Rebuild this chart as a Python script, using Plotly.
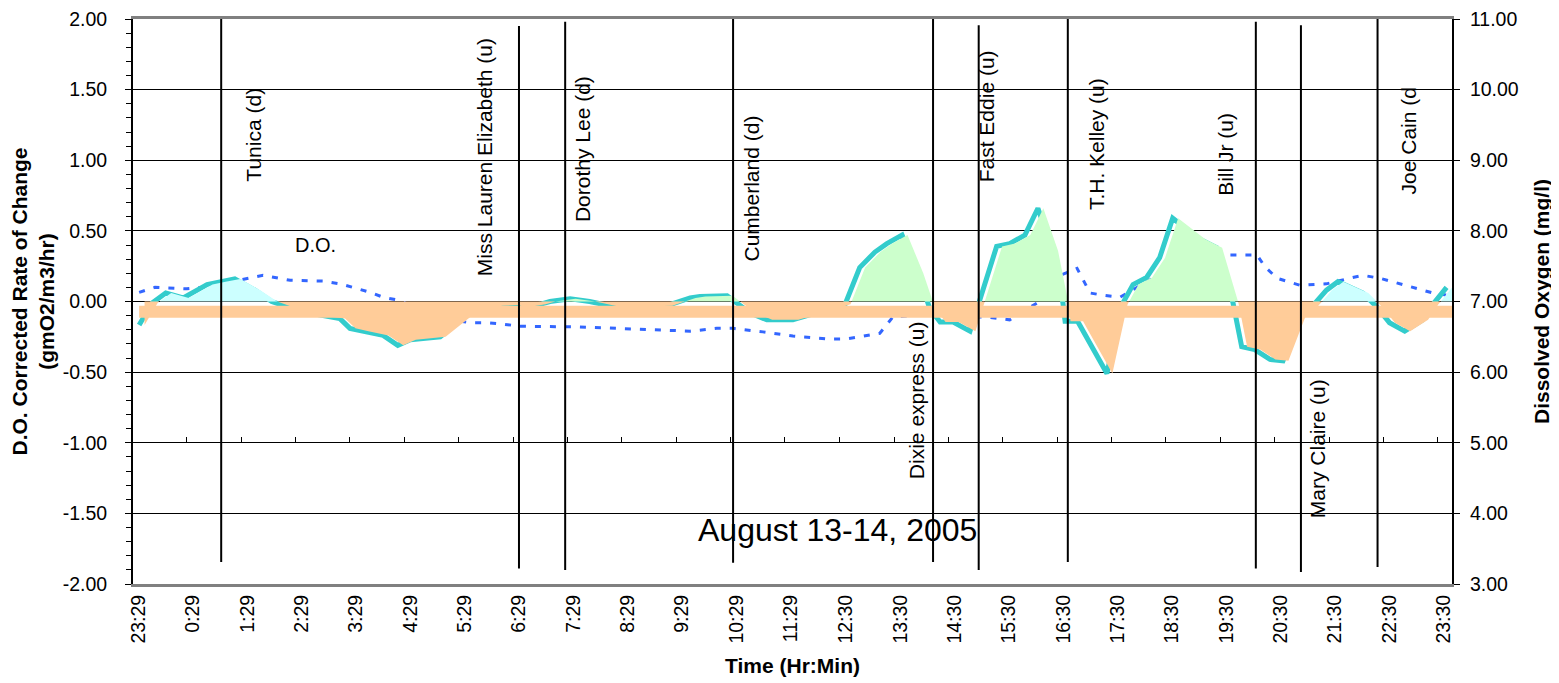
import plotly.graph_objects as go

# ---------------- data ----------------
TICK_LABELS = ["23:29", "0:29", "1:29", "2:29", "3:29", "4:29", "5:29", "6:29", "7:29",
               "8:29", "9:29", "10:29", "11:29", "12:30", "13:30", "14:30", "15:30",
               "16:30", "17:30", "18:30", "19:30", "20:30", "21:30", "22:30", "23:30"]

# hours elapsed since 23:29
RATE_TIME_H = [0.01, 0.25, 0.50, 0.82, 1.26, 1.50, 1.77, 2.14, 2.45, 2.97, 3.47, 3.70, 3.89,
               4.13, 4.50, 4.77, 5.00, 5.55, 5.97, 6.19, 6.60, 6.87, 7.05, 7.39, 7.57, 7.94,
               8.30, 8.80, 9.72, 10.15, 10.33, 10.83, 11.25, 11.56, 12.04, 12.67, 13.00,
               13.27, 13.55, 13.77, 14.05, 14.34, 14.56, 14.75, 14.99, 15.30, 15.79, 16.03,
               16.31, 16.55, 16.82, 17.01, 17.05, 17.28, 17.82, 18.10, 18.30, 18.55, 18.79,
               19.03, 19.53, 19.84, 20.14, 20.30, 20.54, 20.82, 21.06, 21.37, 21.61, 21.86,
               22.07, 22.53, 22.79, 23.02, 23.30, 23.63, 23.82, 24.07]
RATE = [-0.166, -0.01, 0.06, 0.025, 0.12, 0.14, 0.16, 0.08, 0.0, -0.07, -0.11, -0.12, -0.19,
        -0.21, -0.24, -0.31, -0.27, -0.25, -0.12, -0.05, -0.03, -0.025, -0.04, -0.02, 0.0, 0.02,
        0.0, -0.04, -0.03, 0.025, 0.035, 0.04, -0.08, -0.13, -0.13, -0.06, -0.02,
        0.24, 0.35, 0.41, 0.47, 0.20, -0.05, -0.145, -0.145, -0.21, 0.39, 0.41,
        0.47, 0.66, 0.36, -0.01, -0.14, -0.14, -0.51, -0.02, 0.12, 0.17, 0.31,
        0.59, 0.44, 0.38, -0.01, -0.32, -0.34, -0.41, -0.42, -0.11, -0.03, 0.08,
        0.14, 0.06, -0.04, -0.15, -0.21, -0.13, -0.02, 0.10]

DO_TIME_H = [0.01, 0.30, 0.89, 1.17, 1.50, 1.99, 2.29, 2.79, 3.39, 3.71, 3.95, 4.26, 4.50, 4.77,
             5.03, 5.64, 6.10, 6.41, 6.70, 7.02, 8.12, 8.91, 9.78, 10.15, 10.64, 10.94, 11.49,
             12.04, 12.67, 13.03, 13.27, 13.64, 13.88, 14.56, 15.11, 15.61, 16.03, 16.58,
             16.90, 17.27, 17.51, 17.74, 18.06, 18.60, 19.16, 19.90, 20.58, 20.73, 20.95,
             21.37, 21.86, 22.29, 22.53, 22.84, 23.39, 23.82, 24.07]
DO_MGL = [7.13, 7.20, 7.18, 7.20, 7.25, 7.33, 7.37, 7.30, 7.29, 7.25, 7.20, 7.13, 7.06, 7.02,
          6.94, 6.75, 6.70, 6.70, 6.68, 6.65, 6.64, 6.62, 6.60, 6.58, 6.62, 6.62, 6.57,
          6.51, 6.47, 6.47, 6.50, 6.55, 6.78, 6.82, 6.78, 6.78, 6.74, 7.00,
          7.35, 7.47, 7.12, 7.09, 7.06, 7.30, 7.55, 7.66, 7.66, 7.49, 7.33,
          7.23, 7.25, 7.33, 7.37, 7.33, 7.21, 7.12, 7.09]

BAND_TIME_H = [0.01, 24.40]
BAND_LEVEL = -0.072

VESSELS = ["Tunica (d)", "Miss Lauren Elizabeth (u)", "Dorothy Lee (d)", "Cumberland (d)",
           "Dixie express (u)", "Fast Eddie (u)", "T.H. Kelley (u)", "Bill Jr (u)",
           "Mary Claire (u)", "Joe Cain (d"]
VESSEL_TIME_H = [1.52, 7.00, 7.85, 10.94, 14.62, 15.46, 17.10, 20.56, 21.39, 22.80]
VESSEL_TOP = [2.00, 1.95, 1.98, 2.04, 2.04, 1.955, 2.04, 1.98, 1.955, 2.04]
VESSEL_BOTTOM = [-1.845, -1.89, -1.90, -1.85, -1.845, -1.90, -1.845, -1.89, -1.915, -1.88]

RATE_TICKS = [-2.0, -1.5, -1.0, -0.5, 0.0, 0.5, 1.0, 1.5, 2.0]
DO_TICKS = [3, 4, 5, 6, 7, 8, 9, 10, 11]

# ---------------- layout helpers (positions / styles) ----------------
LABEL_POS = [(2.12, 1.18), (6.37, 1.02), (8.18, 1.08), (11.27, 0.80), (14.32, -0.70),
             (15.61, 1.31), (17.62, 1.115), (20.01, 1.045), (21.70, -1.04), (23.36, 1.14)]
FILL_SHIFT_H = 0.10
FONT = "Arial, Liberation Sans, sans-serif"
TEAL = "#33CCCC"
CYAN_FILL = "#CCFFFF"
GREEN_FILL = "#CCFFCC"
PEACH = "#FFCC99"
DO_BLUE = "#3366FF"


def label_to_hours(labels):
    start = None
    out = []
    prev = -1
    for lab in labels:
        h, m = map(int, lab.split(":"))
        mins = h * 60 + m
        if start is None:
            start = mins
        rel = (mins - start) % 1440
        while rel < prev:
            rel += 1440
        prev = rel
        out.append(rel / 60.0)
    return out


TICK_POS = label_to_hours(TICK_LABELS)


def sign_runs(xs, ys):
    pts = []
    for x, y in zip(xs, ys):
        if pts:
            px, py = pts[-1]
            if py * y < 0:
                pts.append((px + (x - px) * py / (py - y), 0.0))
        pts.append((x, y))
    runs, cur = [], []
    for x, y in pts:
        cur.append((x, y))
        if y == 0:
            if len(cur) > 1:
                runs.append(cur)
            cur = [(x, y)]
    if len(cur) > 1:
        runs.append(cur)
    return runs


fig = go.Figure()

# D.O. (right axis, base y)
fig.add_trace(go.Scatter(x=DO_TIME_H, y=DO_MGL, mode="lines", yaxis="y", xaxis="x",
                         line=dict(color=DO_BLUE, width=3, dash="6px,9px"),
                         showlegend=False, hoverinfo="skip"))

# rate line (left axis, y2)
fig.add_trace(go.Scatter(x=RATE_TIME_H, y=RATE, mode="lines", yaxis="y2", xaxis="x",
                         line=dict(color=TEAL, width=5), showlegend=False, hoverinfo="skip"))

# shaded areas
fill_x = [t + FILL_SHIFT_H for t in RATE_TIME_H]
for run in sign_runs(fill_x, RATE):
    xs = [p[0] for p in run]
    ys = [p[1] for p in run]
    if max(abs(v) for v in ys) == 0:
        continue
    positive = max(ys) > 0
    mid = sum(xs) / len(xs)
    if not positive:
        col = PEACH
    elif mid < 5 or mid > 21:
        col = CYAN_FILL
    else:
        col = GREEN_FILL
    fig.add_trace(go.Scatter(x=xs, y=ys, mode="none", fill="tozeroy", fillcolor=col,
                             yaxis="y2", xaxis="x", showlegend=False, hoverinfo="skip"))

# baseline band
fig.add_trace(go.Scatter(x=BAND_TIME_H, y=[BAND_LEVEL] * len(BAND_TIME_H), mode="lines",
                         yaxis="y2", xaxis="x", line=dict(color=PEACH, width=12),
                         showlegend=False, hoverinfo="skip"))

# dummy trace for the secondary tick axis
fig.add_trace(go.Scatter(x=[], y=[], xaxis="x2", yaxis="y2", showlegend=False,
                         hoverinfo="skip"))

# vessel passage lines
for t, top, bot in zip(VESSEL_TIME_H, VESSEL_TOP, VESSEL_BOTTOM):
    fig.add_shape(type="line", xref="x", yref="y2", x0=t, x1=t, y0=bot, y1=top,
                  line=dict(color="black", width=2), layer="above")

# vessel labels
for name, (lx, ly) in zip(VESSELS, LABEL_POS):
    fig.add_annotation(x=lx, y=ly, xref="x", yref="y2", text=name, textangle=-90,
                       showarrow=False, font=dict(family=FONT, size=21, color="black"),
                       xanchor="center", yanchor="middle")

fig.add_annotation(x=3.26, y=0.40, xref="x", yref="y2", text="D.O.", showarrow=False,
                   font=dict(family=FONT, size=20, color="black"))
fig.add_annotation(x=12.86, y=-1.62, xref="x", yref="y2", text="August 13-14, 2005",
                   showarrow=False, font=dict(family=FONT, size=32, color="black"))

XR = [-0.103, 24.17]

fig.update_layout(
    width=1551, height=675,
    margin=dict(l=125, r=107, t=11, b=99, autoexpand=False),
    paper_bgcolor="white", plot_bgcolor="white",
    font=dict(family=FONT, size=19, color="black"),
    showlegend=False,
    xaxis=dict(range=XR, tickmode="array", tickvals=TICK_POS, ticktext=TICK_LABELS,
               tickangle=-90, ticks="", showgrid=False, zeroline=False, automargin=False,
               showline=True, linecolor="#808080", linewidth=3, mirror=True,
               tickfont=dict(size=19.5), ticklabeloverflow="allow",
               title=dict(text="<b>Time (Hr:Min)</b>", font=dict(size=21), standoff=16)),
    xaxis2=dict(range=XR, overlaying="x", anchor="free", position=0.25, side="bottom",
                tickmode="array", tickvals=[p - 0.11 for p in TICK_POS[1:]],
                ticks="inside", ticklen=6, tickcolor="black", tickwidth=1, automargin=False,
                showticklabels=False, showline=False, showgrid=False, zeroline=False),
    yaxis=dict(range=[3, 11], tickmode="array", tickvals=DO_TICKS,
               ticktext=[f"{v:.2f}" for v in DO_TICKS], side="right", automargin=False,
               showgrid=True, gridcolor="black", gridwidth=1, zeroline=False,
               showline=True, linecolor="black", linewidth=2,
               ticks="outside", ticklen=6, tickcolor="black",
               tickfont=dict(size=19.5), ticklabelstandoff=6, ticklabeloverflow="allow",
               title=dict(text="<b>Dissolved Oxygen (mg/l)</b>", font=dict(size=21),
                          standoff=16)),
    yaxis2=dict(range=[-2, 2], tickmode="array", tickvals=RATE_TICKS,
                ticktext=[f"{v:.2f}" for v in RATE_TICKS], side="left", overlaying="y",
                showgrid=False, zeroline=False, automargin=False,
                showline=True, linecolor="black", linewidth=2,
                ticks="outside", ticklen=6, tickcolor="black",
                minor=dict(dtick=0.1, ticks="outside", ticklen=5, tickcolor="black",
                           showgrid=False),
                tickfont=dict(size=19.5), ticklabelstandoff=14, ticklabeloverflow="allow",
                title=dict(text="<b>D.O. Corrected Rate of Change<br>(gmO2/m3/hr)</b>",
                           font=dict(size=21), standoff=4)),
)

fig.write_html("out.html")
